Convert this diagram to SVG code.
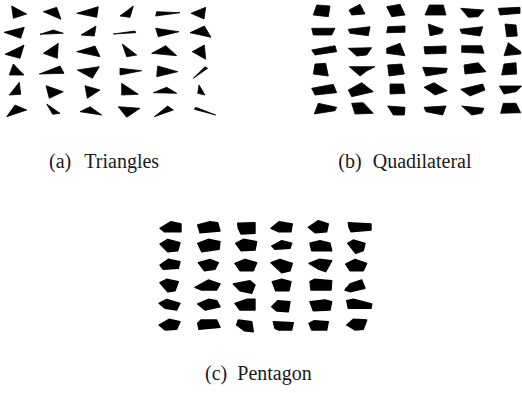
<svg xmlns="http://www.w3.org/2000/svg" width="522" height="393" viewBox="0 0 522 393">
<style>
polygon{fill:#000;stroke:#000;stroke-width:0.8;stroke-linejoin:round}
#pentagons polygon{stroke-width:1.4}
text{font-family:"Liberation Serif","Times New Roman",serif;font-size:20px;fill:#1a1a1a}
</style>
<rect width="522" height="393" fill="#fff"/>
<g id="triangles">
<polygon points="11.7,6 26.7,14 13.3,18.3"/>
<polygon points="43.3,11.7 56.7,7.3 61,19.3"/>
<polygon points="76.7,13.3 98.3,6.7 96.7,17.3"/>
<polygon points="120,16 133.3,6 130,17.3"/>
<polygon points="156.7,11.7 155.7,16 180,12.7"/>
<polygon points="191,13.3 205.7,7.3 204,19"/>
<polygon points="4,32.3 24.3,27.3 20.7,38.3"/>
<polygon points="40,34.3 53.3,30 63.3,33.3"/>
<polygon points="81,35 96,26 94.3,36"/>
<polygon points="113.3,34 135,31 135.7,32.7"/>
<polygon points="155.7,28.3 179,31.7 158.3,36.7"/>
<polygon points="190,32.7 204.3,26 211,37.3"/>
<polygon points="5,54.3 24,45 20,58.3"/>
<polygon points="43.3,53.3 58.3,43.3 57.3,58.3"/>
<polygon points="76.7,51.7 95,46 100,56.7"/>
<polygon points="122.3,44 136.7,55 126.7,56.7"/>
<polygon points="151.7,53.3 165.7,45.7 176.7,55.7"/>
<polygon points="192.3,51.7 204.3,45 205.7,59.3"/>
<polygon points="13.3,64 9.3,75 24,75"/>
<polygon points="39.3,74 60,66 64,73.3"/>
<polygon points="77.3,70 99.3,66.7 92.3,78.3"/>
<polygon points="120,68.3 120,75 141.7,70.7"/>
<polygon points="157.7,66 156.7,76.7 177.7,71.7"/>
<polygon points="193.3,78.3 205,66.7 207.7,68.3"/>
<polygon points="19.3,82.3 9.3,95 20.7,94.3"/>
<polygon points="46,85.7 63.3,91.7 49.3,98.3"/>
<polygon points="85,85.7 100,90 87.3,98.3"/>
<polygon points="121.7,83.3 121.7,95 138.3,94.3"/>
<polygon points="153.3,92.7 166.7,87.3 176.7,93.3"/>
<polygon points="199,85 197.7,93.3 205,95"/>
<polygon points="15,105 26.7,110 6.7,116.7"/>
<polygon points="46.7,104 60,113.3 52.7,114.3"/>
<polygon points="80,111.7 90,106.7 101.7,115"/>
<polygon points="118.3,106.7 140,108.3 126.7,117.3"/>
<polygon points="154.3,116.7 167.7,106 173.3,110"/>
<polygon points="194.3,109.3 195.7,107.3 215.7,115"/>
</g>
<g id="quadrilaterals">
<polygon points="316.7,5 330,6 328.3,16.7 313.3,15"/>
<polygon points="349,10 360,4.3 365,14 351.7,15"/>
<polygon points="386.7,6.7 400,4.3 405,15 391.7,16.7"/>
<polygon points="429.3,5 443.3,5 446,15 425,15"/>
<polygon points="460.7,8.3 484,10 478.3,16.7 468.3,17.3"/>
<polygon points="498.3,8.3 520,7.3 520,13.3 500,15"/>
<polygon points="311.7,28.3 335,28.3 331.7,35 313.3,35"/>
<polygon points="348.3,29.3 370,26.7 368.3,35.7 350,33.3"/>
<polygon points="387.7,26.7 405,26 405,32.3 386.7,32.7"/>
<polygon points="428.3,24 443.3,29.3 441.7,33.3 430,35.7"/>
<polygon points="460,29.3 482.7,26.7 480,36 461.7,33.3"/>
<polygon points="505,24 516,25 517.3,36 506.7,36.7"/>
<polygon points="311.7,50 335,45.7 336.7,51.7 315,55"/>
<polygon points="348.3,48.3 371.7,47.7 366.7,55 356.7,56"/>
<polygon points="386.7,48.3 400,43.3 405,55.7 386.7,53.3"/>
<polygon points="424,46.7 446,46 446,53.3 425,54"/>
<polygon points="461.7,45.7 481.7,45.7 484,53.3 461.7,52.3"/>
<polygon points="508.3,42.7 521,51.7 520.7,54 504,55.7"/>
<polygon points="315,64 325.7,63.3 328.3,76 313.3,74"/>
<polygon points="349.3,66.7 375,66.7 366.7,71 360,76"/>
<polygon points="387.7,65 401.7,64 404.3,74 389,76"/>
<polygon points="422.7,67.3 447.3,68.3 446,72.7 426,76"/>
<polygon points="464,65 478.3,62.7 486,71.7 465,74"/>
<polygon points="504,64 516,62.7 516.7,74 501.7,75"/>
<polygon points="311.7,88.3 333.3,84.3 336.7,92.7 315,95"/>
<polygon points="348.3,90 361.7,82.7 373.3,91.7 351.7,96.7"/>
<polygon points="390,84 403.3,84 405,93.3 390,94"/>
<polygon points="424,87.3 434,82.7 447.3,90.7 435,95"/>
<polygon points="460.7,89.3 482.7,84 485,90 470,96"/>
<polygon points="499.3,86 521.7,86 516,91.7 504,94"/>
<polygon points="318.3,103.3 336.7,107.3 335,110.7 314.3,114"/>
<polygon points="351.7,103.3 363.3,102.7 373.3,113.3 355,114"/>
<polygon points="387.7,106 405,107.3 404.3,115 393.3,115"/>
<polygon points="424,107.3 446,106 442.7,115 426,111.7"/>
<polygon points="461.7,106 484,108.3 481.7,113.3 471.7,115"/>
<polygon points="503.3,103.3 516,103.3 520.7,112.7 500.7,113.3"/>
</g>
<g id="pentagons">
<polygon points="160,228.3 171,221.7 181,224 181,231.7 164.3,231.7"/>
<polygon points="197.7,225 210,221.7 217.7,222.7 220,231 200,232.7"/>
<polygon points="237.7,223.3 255,222.7 255,233.3 241,234 238.3,228.3"/>
<polygon points="271,228.3 279,221.7 292.3,224 291,231.7 278.3,231.7"/>
<polygon points="308.3,227.3 318.3,220.7 328.3,224 326.7,231.7 315,232.7"/>
<polygon points="348.3,222.7 371,224 371,230 351,231.7 349,227.3"/>
<polygon points="160,244 167.7,239.3 180,242.7 177.7,250.7 167.7,251.7"/>
<polygon points="197.7,243.3 208.3,239.3 220,241.7 219,249.3 201.7,251.7"/>
<polygon points="235.7,243.3 243.3,239.3 256.7,241.7 255,250 241,250.7"/>
<polygon points="271.7,246 281.7,240.7 291.7,243.3 290,248.3 275,249.3"/>
<polygon points="310,243.3 320,240.7 330,243.3 331.7,250.7 311.7,250.7"/>
<polygon points="347.7,243.3 353.3,240 365,243.3 363.3,250.7 355.7,253.3"/>
<polygon points="160,265 168.3,259.3 180,261.7 178.3,268.3 163.3,269.3"/>
<polygon points="198.3,262.7 210,259.3 218.3,262.7 215,269.3 204.3,270.7"/>
<polygon points="235,263.3 245,259.3 256.7,262.7 253.3,270.7 240,270.7"/>
<polygon points="271,262.7 280,259.3 292.3,263.3 290,270.7 281.7,272.7"/>
<polygon points="309,263.3 319,259.3 331.7,260.7 325.7,271.7 319,269.3"/>
<polygon points="345.7,264 355,259.3 366.7,263.3 363.3,270.7 350,270.7"/>
<polygon points="160,282.7 166.7,279.3 178.3,281.7 175,290.7 167.7,291.7"/>
<polygon points="195,287.3 208.3,280 220,284 216.7,290 201.7,290"/>
<polygon points="233.3,284 250,280.7 255,285 251.7,293.3 240,290.7"/>
<polygon points="272.3,281.7 281.7,279.3 291,281.7 289,290.7 275.7,290.7"/>
<polygon points="310,281.7 314.3,279.3 331.7,280.7 331,290 311,290"/>
<polygon points="345,290 350,284 361.7,280 365,288.3 350,291.7"/>
<polygon points="159,303.3 166.7,299.3 180,303.3 176.7,310 165,308.3"/>
<polygon points="197.7,304 208.3,299.3 216.7,300.7 220,306.7 205,310"/>
<polygon points="235,303.3 246.7,299.3 255,299.3 255,310 240,310"/>
<polygon points="271.7,306.7 277.7,300.7 290,301.7 288.3,311.7 276.7,311"/>
<polygon points="310,301.7 325,300 331.7,301.7 330,310 313.3,310.7"/>
<polygon points="346.7,300.7 353.3,299.3 371.7,304 371,308.3 348.3,308.3"/>
<polygon points="159,325 169,319.3 180,321.7 176.7,329.3 165,330"/>
<polygon points="197.7,323.3 201,320 216.7,320 220,327.3 199,329.3"/>
<polygon points="236.7,325 238.3,320 251.7,321.7 253.3,331.7 244.3,330.7"/>
<polygon points="273.3,321.7 293.3,322.7 291.7,330 278.3,330 275,328.3"/>
<polygon points="309,323.3 314.3,320.7 328.3,321.7 326.7,330 311.7,330"/>
<polygon points="346.7,325 353.3,319.3 366.7,320 363.3,329.3 355,330"/>
</g>
<g id="captions">
<text x="49" y="168">(a)</text><text x="84.3" y="168">Triangles</text>
<text x="338.3" y="168">(b)</text><text x="372.7" y="168">Quadilateral</text>
<text x="205" y="380">(c)</text><text x="237.3" y="380">Pentagon</text>
</g>
</svg>
